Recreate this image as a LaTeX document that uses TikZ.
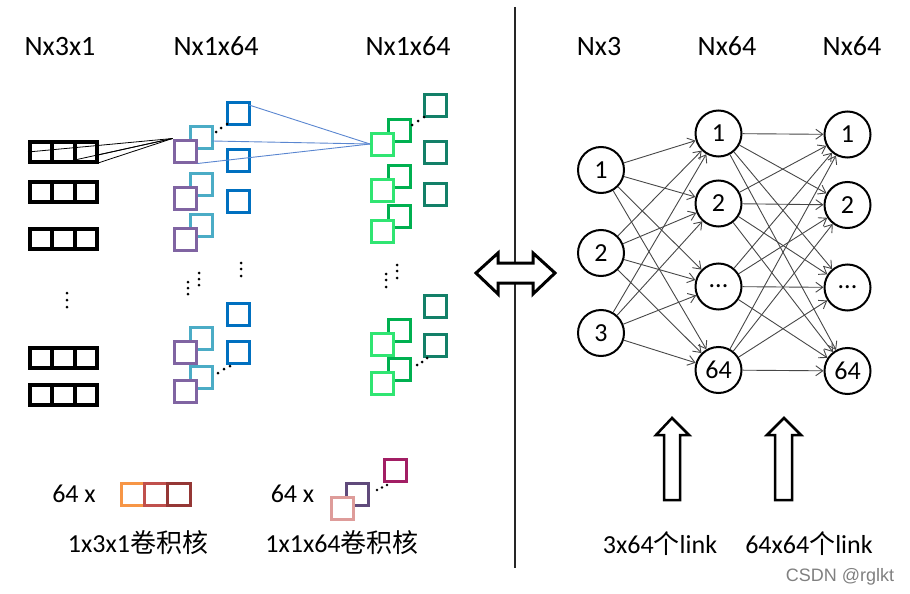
\documentclass[tikz,border=0pt]{standalone}
\usepackage{fontspec}
\setmainfont{Carlito}
\newfontfamily\cjk{Noto Sans CJK SC}
\newfontfamily\wmfont{Liberation Sans}
\usetikzlibrary{arrows.meta}
\definecolor{purpA}{HTML}{8064A2}
\definecolor{cyanA}{HTML}{4BACC6}
\definecolor{blueA}{HTML}{0070C0}
\definecolor{lgreen}{HTML}{30E572}
\definecolor{mgreen}{HTML}{00B050}
\definecolor{tealA}{HTML}{138068}
\definecolor{orangeA}{HTML}{F79646}
\definecolor{redA}{HTML}{C0504D}
\definecolor{dredA}{HTML}{953735}
\definecolor{pinkA}{HTML}{DE9C9A}
\definecolor{dpurpA}{HTML}{604A7B}
\definecolor{magA}{HTML}{A21E64}
\definecolor{lineblue}{HTML}{5A86D0}
\newcommand\BlkRow[2]{%
  \node[cell] (#1a) at (41.17,#2) {};
  \node[cell] (#1b) at (63.5,#2) {};
  \node[cell] (#1c) at (85.83,#2) {};}
\begin{document}
\begin{tikzpicture}[x=1pt,y=-1pt,
  sq/.style={draw, fill=white, line width=3pt, minimum size=22pt, inner sep=0pt},
  cell/.style={draw, line width=4pt, minimum width=22.33pt, minimum height=20pt, inner sep=0pt},
  legcell/.style={draw, line width=3pt, minimum width=23pt, minimum height=22pt, inner sep=0pt},
  neuron/.style={circle, draw, line width=2pt, fill=white, minimum size=46pt, inner sep=0pt, font=\fontsize{26}{26}\selectfont},
  link/.style={draw=black!72, line width=0.9pt, -{Straight Barb[length=7pt,width=10pt]}},
  title/.style={font=\fontsize{28}{28}\selectfont, anchor=base},
  lbl/.style={font=\fontsize{26}{26}\selectfont, anchor=base},
  kline/.style={black, line width=0.8pt},
  bline/.style={lineblue, line width=0.9pt},
  uparrow/.style={draw, line width=2.5pt, fill=white, line join=miter},
  dotc/.style={fill=black}
]
\useasboundingbox (0,0) rectangle (910,594);

% titles
\node[title] (t1) at (60,56) {Nx3x1};
\node[title] (t2) at (216,56) {Nx1x64};
\node[title] (t3) at (408,56) {Nx1x64};
\node[title] (t4) at (599,56) {Nx3};
\node[title] (t5) at (727,56) {Nx64};
\node[title] (t6) at (852,56) {Nx64};

% divider
\draw[line width=1.1pt, black!85] (515,7) -- (515,568);

% black input rows
\BlkRow{ba}{152}
\BlkRow{bb}{192}
\BlkRow{bc}{239}
\BlkRow{bd}{357.5}
\BlkRow{be}{395}
\foreach \yy in {293,300,307} \fill (67,\yy) circle (1.5);

% first conv layer (top group)
\node[sq, draw=cyanA] (c1) at (201,137) {};
\node[sq, draw=cyanA] (c2) at (201,184) {};
\node[sq, draw=cyanA] (c3) at (201,225) {};
\node[sq, draw=purpA] (p1) at (185,151) {};
\node[sq, draw=purpA] (p2) at (185,198) {};
\node[sq, draw=purpA] (p3) at (185,239.5) {};
\node[sq, draw=blueA] (u1) at (238,113.5) {};
\node[sq, draw=blueA] (u2) at (238,160) {};
\node[sq, draw=blueA] (u3) at (238,201) {};
% lower group
\node[sq, draw=blueA] (u4) at (238,314) {};
\node[sq, draw=blueA] (u5) at (238,352) {};
\node[sq, draw=cyanA] (c4) at (201,338.5) {};
\node[sq, draw=cyanA] (c5) at (201,377) {};
\node[sq, draw=purpA] (p4) at (185,352.5) {};
\node[sq, draw=purpA] (p5) at (185,391.5) {};

% second conv layer
\node[sq, draw=mgreen] (m1) at (399,130) {};
\node[sq, draw=mgreen] (m2) at (399,176) {};
\node[sq, draw=mgreen] (m3) at (399,216.5) {};
\node[sq, draw=lgreen] (l1) at (382.5,144) {};
\node[sq, draw=lgreen] (l2) at (382.5,190.5) {};
\node[sq, draw=lgreen] (l3) at (382.5,231) {};
\node[sq, draw=tealA] (q1) at (435,105) {};
\node[sq, draw=tealA] (q2) at (435,152) {};
\node[sq, draw=tealA] (q3) at (435,194) {};
\node[sq, draw=tealA] (q4) at (435,306.5) {};
\node[sq, draw=tealA] (q5) at (435,345) {};
\node[sq, draw=mgreen] (m4) at (399,330) {};
\node[sq, draw=mgreen] (m5) at (399,369) {};
\node[sq, draw=lgreen] (l4) at (382.5,344.5) {};
\node[sq, draw=lgreen] (l5) at (382.5,383.5) {};

% ellipsis dots
\foreach \px/\py in {216/132,221/128,227/124, 218/373,224/369,230/366,
  412/125,418/121,424/117, 417/365,422/362,427/358,
  188/282,188/288,188/294, 199/273,199/279,199/285, 241/263,241/269,241/276,
  386/274,386/280,386/287, 397/265,397/271,397/278}
  \fill (\px,\py) circle (1.5);

% connections from black row to first kernel
\coordinate (s1) at (28,152);
\coordinate (s2) at (61,163);
\coordinate (s3) at (98,155);
\coordinate (s4) at (98,163);
\foreach \s in {s1,s2,s3,s4} \draw[kline] (\s) -- (p1.north west);

% connections to second kernel
\coordinate (bu1) at (249,105);
\coordinate (bc1) at (212,141);
\draw[bline] (bu1) -- (l1.west);
\draw[bline] (bc1) -- (l1.west);
\draw[bline] (p1.south east) -- (l1.west);

% legend
\node[lbl] (n64a) at (74,502) {64 x};
\node[legcell, draw=orangeA] (k1) at (133,494.5) {};
\node[legcell, draw=redA] (k2) at (156,494.5) {};
\node[legcell, draw=dredA] (k3) at (179,494.5) {};
\node[lbl] (lk1) at (138,552) {1x3x1{\cjk 卷积核}};
\node[lbl] (n64b) at (292.5,502) {64 x};
\node[sq, draw=dpurpA] (d1) at (357.5,494.5) {};
\node[sq, draw=pinkA] (d2) at (342.5,508.5) {};
\node[sq, draw=magA] (d3) at (395,470.5) {};
\foreach \px/\py in {377/490,382/487.5,387/485} \fill (\px,\py) circle (1.4);
\node[lbl] (lk2) at (342,552) {1x1x64{\cjk 卷积核}};

% double arrow
\draw[line width=3pt, fill=white, line join=miter] (476,273) -- (498,253) -- (498,263) -- (533,263) -- (533,253) -- (555,273) -- (533,294) -- (533,283) -- (498,283) -- (498,294) -- cycle;

% right network
\node[neuron] (i1) at (601,170) {1};
\node[neuron] (i2) at (601,253) {2};
\node[neuron] (i3) at (601,333) {3};
\node[neuron] (h1) at (718.5,133.5) {1};
\node[neuron] (h2) at (718.5,203.5) {2};
\node[neuron] (h3) at (718.5,286.5) {...};
\node[neuron] (h4) at (718.5,370) {64};
\node[neuron] (o1) at (847.5,134.5) {1};
\node[neuron] (o2) at (847.5,205) {2};
\node[neuron] (o3) at (847.5,287.5) {...};
\node[neuron] (o4) at (847.5,371) {64};
\foreach \a in {i1,i2,i3}
  \foreach \b in {h1,h2,h3,h4}
    \draw[link] (\a) -- (\b);
\foreach \a in {h1,h2,h3,h4}
  \foreach \b in {o1,o2,o3,o4}
    \draw[link] (\a) -- (\b);

% up arrows
\draw[uparrow] (672,418) -- (689,435) -- (680,435) -- (680,500) -- (664,500) -- (664,435) -- (656,435) -- cycle;
\draw[uparrow] (784,418) -- (801,435) -- (792,435) -- (792,500) -- (775,500) -- (775,435) -- (767,435) -- cycle;
\node[lbl] (lnk1) at (660,553) {3x64{\cjk 个}link};
\node[lbl] (lnk2) at (809,553) {64x64{\cjk 个}link};

% watermark
\node[anchor=base, font=\wmfont\fontsize{18}{18}\selectfont, text=black!50] (wm) at (840,581) {CSDN @rglkt};
\end{tikzpicture}
\end{document}
